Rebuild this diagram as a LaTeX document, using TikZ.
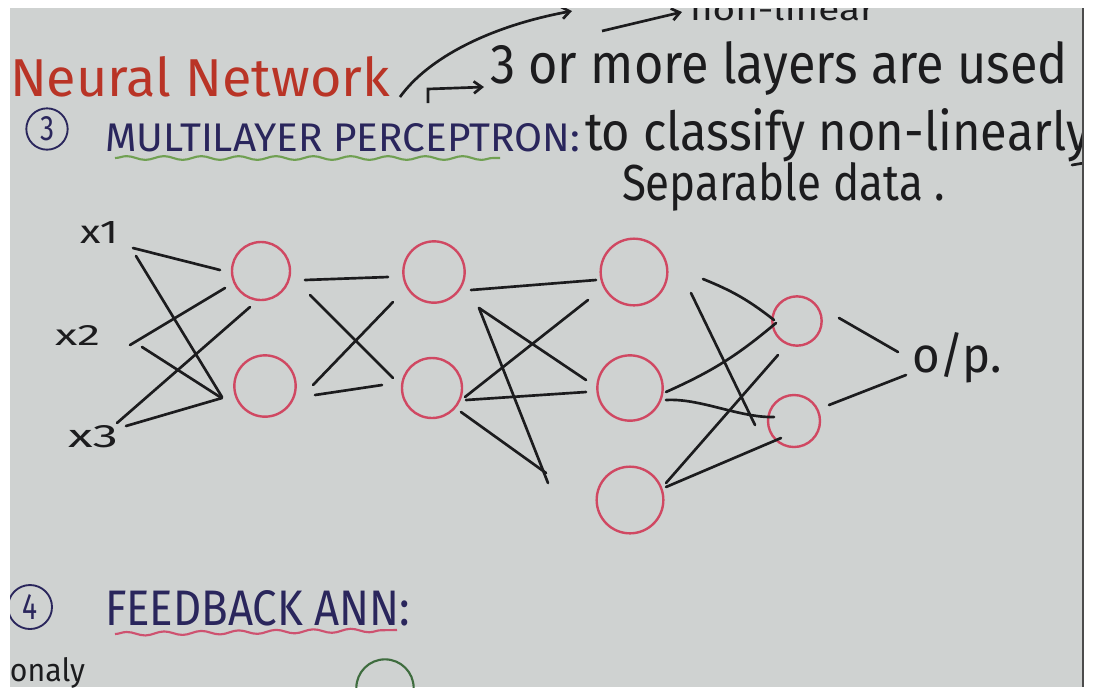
\documentclass[tikz,border=0pt]{standalone}
\usepackage{fontspec}
\setmainfont{Fira Sans}
\usetikzlibrary{calc,arrows.meta,decorations.pathmorphing}
\newlength\pxu \setlength\pxu{0.75pt}
\newcommand\fitt[3]{\resizebox{#1\pxu}{#2\pxu}{#3}}
\definecolor{board}{RGB}{207,210,209}
\definecolor{ink}{RGB}{28,28,30}
\definecolor{titlered}{RGB}{185,52,38}
\definecolor{navy}{RGB}{42,38,92}
\definecolor{neuronred}{RGB}{208,72,98}
\definecolor{wavygreen}{RGB}{112,160,82}
\definecolor{wavypink}{RGB}{206,82,112}
\definecolor{darkgreen}{RGB}{62,108,62}
\tikzset{
  txt/.style={inner sep=0pt, outer sep=0pt, anchor=base west},
  wire/.style={draw=ink, line width=2pt, line cap=round},
  neuron/.style={circle, draw=neuronred, line width=1.8pt, inner sep=0pt},
  numcirc/.style={circle, draw=navy, line width=1.4pt, inner sep=0pt, text=navy},
  wavy/.style={line width=1.6pt, decorate, decoration={snake, amplitude=1.4pt, segment length=28pt}},
  arr/.style={draw=ink, line width=2pt, -{Straight Barb[length=6pt,width=9pt]}}
}
\begin{document}
\begin{tikzpicture}[x=0.75pt,y=-0.75pt]
\useasboundingbox (0,0) rectangle (1095,687);
\fill[white] (0,0) rectangle (1095,687);
\fill[board] (10,8) rectangle (1083,687);
\begin{scope}
\clip (10,8) rectangle (1083,687);

% ---------- header texts ----------
\node[txt, text=titlered] (title) at (10,96) {\fitt{380}{40}{Neural Network}};
\node[numcirc, minimum size=31pt] (c3) at (47,129) {\fitt{14}{24}{3}};
\node[txt, text=navy] (mlp) at (105,151) {\fitt{475}{28}{MULTILAYER PERCEPTRON:}};
\draw[wavy, wavygreen] (115,158) -- (500,158);

\node[txt, text=ink] (top) at (690,20) {\fitt{185}{24}{non-linear}};
\node[txt, text=ink] (line1) at (490,83) {\fitt{578}{42}{3 or more layers are used}};
\node[txt, text=ink] (line2) at (585,150) {\fitt{505}{42}{to classify non-linearly}};
\node[txt, text=ink] (line3) at (622,200) {\fitt{323}{38}{Separable data .}};

\coordinate (curveA) at (400,97);
\coordinate (curveB) at (572,11);
\draw[arr] (curveA) .. controls (428,58) and (490,26) .. (curveB);
\coordinate (arrA) at (602,31);
\draw[arr] (arrA) -- ($(top.base west)+(-8,-8)$);
\coordinate (elbA) at (428,103);
\draw[arr] (elbA) -- (428,89) -- ($(line1.base west)+(-6,4)$);
\coordinate (dashA) at (1072,165);
\coordinate (dashB) at (1084,163);
\draw[wire] (dashA) -- (dashB);

% ---------- network ----------
\node[txt, text=ink] (lab1) at (80,243) {\fitt{38}{22}{x1}};
\node[txt, text=ink] (lab2) at (55,345) {\fitt{45}{20}{x2}};
\node[txt, text=ink] (lab3) at (68,447) {\fitt{50}{22}{x3}};
\coordinate (in1) at (133,248);
\coordinate (in2) at (130,345);
\coordinate (in3) at (117,423);

\node[neuron, minimum size=43.5pt] (h1a) at (261,271) {};
\node[neuron, minimum size=46pt]   (h1b) at (265,386) {};
\node[neuron, minimum size=46pt]   (h2a) at (434,272) {};
\node[neuron, minimum size=45pt]   (h2b) at (432,388) {};
\node[neuron, minimum size=50pt]   (h3a) at (634,272) {};
\node[neuron, minimum size=49pt]   (h3b) at (630,388) {};
\node[neuron, minimum size=50pt]   (h3c) at (630,500) {};
\node[neuron, minimum size=37pt]   (h4a) at (797,321) {};
\node[neuron, minimum size=39pt]   (h4b) at (794,421) {};

% inputs -> layer 1
\draw[wire] (in1) -- ($(h1a)+(-41,-1)$);
\draw[wire] ($(in1)+(3,8)$) -- ($(h1b)+(-43,11)$);
\draw[wire] (in2) -- ($(h1a)+(-36,17)$);
\draw[wire] ($(in2)+(12,2)$) -- ($(h1b)+(-45,11)$);
\draw[wire] (in3) -- ($(h1a)+(-11,36)$);
\draw[wire] ($(in3)+(9,3)$) -- ($(h1b)+(-43,12)$);

% layer 1 -> layer 2
\draw[wire] ($(h1a)+(44,9)$) -- ($(h2a)+(-46,5)$);
\draw[wire] ($(h1a)+(49,24)$) -- ($(h2b)+(-39,-10)$);
\draw[wire] ($(h2a)+(-41,30)$) -- ($(h1b)+(48,-1)$);
\draw[wire] ($(h1b)+(50,9)$) -- ($(h2b)+(-50,-3)$);

% layer 2 -> layer 3
\draw[wire] ($(h2a)+(37,18)$) -- ($(h3a)+(-38,8)$);
\draw[wire] ($(h2a)+(45,36)$) -- ($(h3b)+(-44,-8)$);
\draw[wire] ($(h2a)+(45,36)$) -- ($(h3c)+(-82,-17)$);
\draw[wire] ($(h3a)+(-46,28)$) -- ($(h2b)+(33,9)$);
\draw[wire] ($(h2b)+(34,12)$) -- ($(h3b)+(-44,4)$);
\draw[wire] ($(h2b)+(29,24)$) -- ($(h3c)+(-84,-27)$);

% layer 3 -> layer 4
\draw[wire] ($(h3a)+(69,7)$) to[bend left=8] ($(h4a)+(-23,-1)$);
\draw[wire] ($(h3a)+(57,21)$) -- ($(h4b)+(-39,4)$);
\draw[wire] ($(h3b)+(36,4)$) to[bend right=8] ($(h4a)+(-21,2)$);
\draw[wire] ($(h3b)+(36,12)$) .. controls (700,398) and (740,418) .. ($(h4b)+(-20,-4)$);
\draw[wire] ($(h3c)+(36,-17)$) -- ($(h4a)+(-19,34)$);
\draw[wire] ($(h3c)+(36,-13)$) -- ($(h4b)+(-13,17)$);

% output
\node[txt, text=ink] (op) at (912,372) {\fitt{90}{40}{o/p.}};
\draw[wire] ($(h4a)+(42,-3)$) -- ($(op.base west)+(-14,-20)$);
\draw[wire] ($(h4b)+(35,-16)$) -- ($(op.base west)+(-6,3)$);

% ---------- section 4 ----------
\node[numcirc, minimum size=33pt] (c4) at (30,607) {\fitt{15}{25}{4}};
\node[txt, text=navy] (fb) at (105,625) {\fitt{305}{35}{FEEDBACK ANN:}};
\draw[wavy, wavypink] (115,634) -- (397,630);
\node[txt, text=ink] (onaly) at (10,681) {\fitt{75}{24}{onaly}};
\node[circle, draw=darkgreen, line width=1.6pt, minimum size=43pt, inner sep=0pt] (g1) at (385,688) {};
\end{scope}
\draw[gray!60!black, line width=1pt] (1083,8) -- (1083,687);
\end{tikzpicture}
\end{document}
